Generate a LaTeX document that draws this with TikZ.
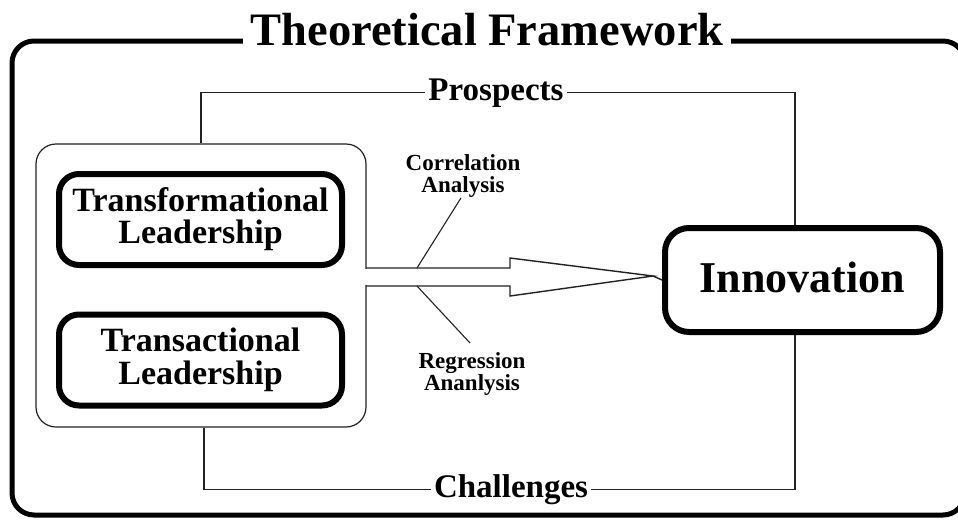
\documentclass[tikz,border=0pt]{standalone}
\usepackage{fontspec}
\setmainfont{Liberation Serif}
\usetikzlibrary{calc}
\definecolor{lin}{HTML}{222222}
\tikzset{
  bigbox/.style={draw=black, line width=6pt, rounded corners=20pt, minimum width=283pt, minimum height=91pt, align=center, inner sep=0pt},
  conn/.style={draw=lin, line width=1.4pt},
  lbl/.style={inner xsep=3pt, inner ysep=2pt, font=\bfseries\fontsize{33}{33}\selectfont},
  small/.style={align=center, inner sep=0pt, font=\bfseries\fontsize{23}{22.5}\selectfont},
}
\begin{document}
\begin{tikzpicture}[x=1pt,y=-1pt]
\useasboundingbox (0,0) rectangle (958,520);
\clip (0,0) rectangle (958,520);
\fill[white] (0,0) rectangle (958,520);
% outer frame
\draw[line width=5pt, rounded corners=22pt] (12,41) rectangle (965,515);
\node[fill=white, anchor=base, inner xsep=7pt, inner ysep=0pt, font=\bfseries\fontsize{46.5}{46}\selectfont] (title) at (487,45) {Theoretical Framework};
% inner group
\node[draw=lin, line width=1.2pt, rounded corners=20pt, minimum width=330pt, minimum height=283pt] (inner) at (201,285.5) {};
\node[bigbox, font=\bfseries\fontsize{34}{32}\selectfont] (tf) at (200.5,219.5) {Transformational\\Leadership};
\node[bigbox, font=\bfseries\fontsize{34}{33}\selectfont] (tc) at (200.5,360) {Transactional\\Leadership};
% innovation
\node[draw=black, line width=6pt, rounded corners=24pt, minimum width=275pt, minimum height=104pt, inner sep=0pt, font=\bfseries\fontsize{44}{44}\selectfont] (innov) at (802.5,280) {\raisebox{6pt}{Innovation}};
% labels
\node[lbl, anchor=base] (pros) at (496,100) {Prospects};
\node[lbl, anchor=base] (chal) at (511,497) {Challenges};
\node[small] (corr) at (463,176) {Correlation\\Analysis};
\node[small] (regr) at (472,374) {Regression\\Ananlysis};
% connectors
\draw[conn] (inner.north) |- (pros.west);
\draw[conn] (pros.east) -| ([xshift=-7.5pt]innov.north);
\draw[conn] ([xshift=3pt]inner.south) |- (chal.west);
\draw[conn] (chal.east) -| ([xshift=-7.5pt]innov.south);
% block arrow
\coordinate (a1) at (366,268);
\coordinate (a2) at (510,268);
\coordinate (a3) at (510,258);
\coordinate (tip) at (653,276);
\coordinate (a5) at (510,296);
\coordinate (a6) at (510,286);
\coordinate (a7) at (366,286);
\fill[white] (364,268.7) rectangle (368,285.3);
\draw[conn, line join=miter] (a1) -- (a2) -- (a3) -- (tip) -- (a5) -- (a6) -- (a7);
\draw[conn] (tip) -- (innov.west);
% leaders
\coordinate (c1) at (417,268);
\coordinate (r1) at (417,286);
\coordinate (r2) at (470,343);
\draw[conn, line width=1.1pt] ([xshift=-2pt]corr.south) -- (c1);
\draw[conn, line width=1.1pt] (r1) -- (r2);
\end{tikzpicture}
\end{document}
